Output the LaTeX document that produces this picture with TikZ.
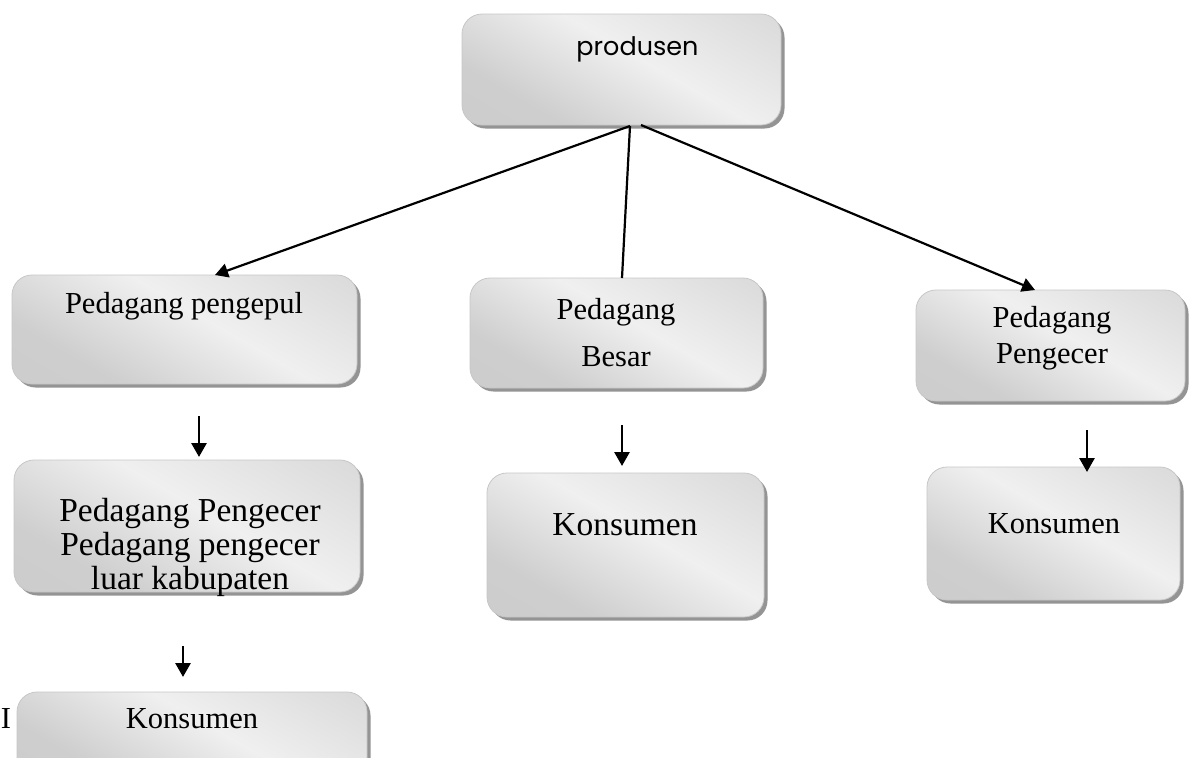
\documentclass[tikz,border=0pt]{standalone}
\usepackage{fontspec}
\setmainfont{Liberation Serif}
\newfontfamily\prodfont{Poppins}
\usetikzlibrary{arrows.meta,shadows}
\pgfdeclareverticalshading{metalsh}{100bp}{color(0bp)=(black!21); color(30bp)=(black!19); color(55bp)=(black!6); color(75bp)=(black!12); color(100bp)=(black!19)}
\tikzset{
  box/.style={rounded corners=20pt, draw=black!22, line width=0.8pt,
    shading=metalsh, shading angle=-30,
    drop shadow={shadow xshift=3.5pt, shadow yshift=-3.5pt, fill=black!42, opacity=1},
    inner sep=0pt},
  lbl/.style={anchor=base, inner sep=0pt, font=\fontsize{30.5}{36}\selectfont},
  lblbig/.style={anchor=base, inner sep=0pt, font=\fontsize{33.5}{40}\selectfont},
  conn/.style={line width=2.2pt, -{Triangle[length=13pt,width=14pt]}},
  plain/.style={line width=2.2pt},
  short/.style={line width=2.8pt, -{Triangle[length=14pt,width=15pt]}}
}
\begin{document}
\begin{tikzpicture}[x=1pt,y=-1pt]
\useasboundingbox (0,0) rectangle (1192,758);
\clip (0,0) rectangle (1192,758);
% stray glyph at the left edge
\node[lbl] (stray) at (6,728) {I};
% boxes
\node[box, minimum width=319pt, minimum height=111pt] (b0) at (621.5,69.5) {};
\node[box, minimum width=345pt, minimum height=109pt] (b1) at (184.5,329.5) {};
\node[box, minimum width=293pt, minimum height=110pt] (b2) at (616.5,333) {};
\node[box, minimum width=269pt, minimum height=111pt] (b3) at (1050.5,345.5) {};
\node[box, minimum width=346pt, minimum height=132pt] (b4) at (187,526) {};
\node[box, minimum width=277pt, minimum height=144pt] (b5) at (625.5,545) {};
\node[box, minimum width=253pt, minimum height=133pt] (b6) at (1053.5,533.5) {};
\node[box, minimum width=350pt, minimum height=90pt] (b7) at (192,737) {};
% texts
\node[anchor=base, inner sep=0pt, font=\prodfont\fontsize{25.5}{30}\selectfont] (t0) at (637.5,55) {produsen};
\node[lbl] (t1) at (184,313) {Pedagang pengepul};
\node[lbl] (t2a) at (616,319) {Pedagang};
\node[lbl] (t2b) at (616,366) {Besar};
\node[lbl] (t3a) at (1052,327) {Pedagang};
\node[lbl] (t3b) at (1052,363) {Pengecer};
\node[lblbig] (t4a) at (190,521) {Pedagang Pengecer};
\node[lblbig] (t4b) at (190,555) {Pedagang pengecer};
\node[lblbig] (t4c) at (190,589) {luar kabupaten};
\node[lblbig] (t5) at (625,535) {Konsumen};
\node[lbl] (t6) at (1054,533) {Konsumen};
\node[lbl] (t7) at (192,728) {Konsumen};
% connector end points
\coordinate (s0) at (630,126);
\coordinate (s1) at (641,125);
\coordinate (e1) at (215,275);
\coordinate (e2) at (622,278);
\coordinate (e3) at (1035,290);
\draw[conn] (s0) -- (e1);
\draw[plain] (s0) -- (e2);
\draw[conn] (s1) -- (e3);
% short arrows
\coordinate (a1s) at (199,416); \coordinate (a1e) at (199,457);
\coordinate (a2s) at (622,425); \coordinate (a2e) at (622,466);
\coordinate (a3s) at (1087,430); \coordinate (a3e) at (1087,472);
\coordinate (a4s) at (183,646); \coordinate (a4e) at (183,677);
\draw[short] (a1s) -- (a1e);
\draw[short] (a2s) -- (a2e);
\draw[short] (a3s) -- (a3e);
\draw[short] (a4s) -- (a4e);
\end{tikzpicture}
\end{document}
